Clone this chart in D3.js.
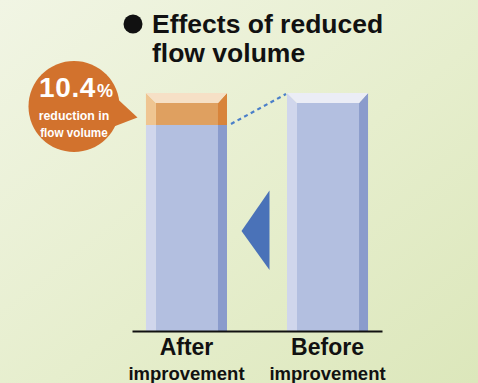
<!DOCTYPE html>
<html>
<head>
<meta charset="utf-8">
<script src="https://cdn.jsdelivr.net/npm/d3@7"></script>
<style>
  html, body { margin: 0; padding: 0; background: #e8efd2; }
  svg { display: block; }
  text { font-family: "Liberation Sans", Arial, Helvetica, sans-serif; font-weight: bold; }
</style>
</head>
<body>
<svg id="chart" width="478" height="383"></svg>
<script>
// Flow volume, indexed to the level before improvement (= 100)
const categories = ["After", "Before"];
const categorySub = ["improvement", "improvement"];
const flowValues = [89.6, 100];
const reductionPct = 10.4;
const titleLines = ["Effects of reduced", "flow volume"];
const bubbleLines = ["reduction in", "flow volume"];

const W = 478, H = 383;
const svg = d3.select("#chart");

// background wash
const defs = svg.append("defs");
const bg = defs.append("linearGradient").attr("id", "bg")
  .attr("x1", "0").attr("y1", "0").attr("x2", "1").attr("y2", "1");
bg.append("stop").attr("offset", "0%").attr("stop-color", "#f1f5e4");
bg.append("stop").attr("offset", "55%").attr("stop-color", "#e6eecd");
bg.append("stop").attr("offset", "100%").attr("stop-color", "#dce7bb");
svg.append("rect").attr("width", W).attr("height", H).attr("fill", "url(#bg)");

// scales: the value axis starts above zero so the difference reads clearly
const axisFloor = 22.6;
const x = d3.scaleBand().domain(categories).range([132, 382])
  .paddingInner(0.4255).paddingOuter(0.099);
const y = d3.scaleLinear().domain([axisFloor, 100]).range([331, 93]);
const baseY = y(axisFloor);

const blue = { top: "#ebedf6", left: "#d0d6ec", mid: "#b3bfe0", right: "#8a9bcc" };
const orange = { top: "#f6e0c6", left: "#efc591", mid: "#dfa060", right: "#d8843b" };

// each column is stacked from segments: the retained flow and the reduced part
const segments = [];
categories.forEach((c, i) => {
  const v = flowValues[i];
  const maxV = d3.max(flowValues);
  segments.push({ cat: c, v0: axisFloor, v1: v, pal: blue, cap: v >= maxV });
  if (v < maxV) segments.push({ cat: c, v0: v, v1: maxV, pal: orange, cap: true });
});

const bl = 10, br = 9, bt = 10; // bevel sizes
const g = svg.append("g");
segments.forEach(s => {
  const x0 = x(s.cat), x1 = x0 + x.bandwidth();
  const yt = y(s.v1), yb = y(s.v0);
  const inner = s.cap ? yt + bt : yt;
  g.append("rect").attr("x", x0 + bl).attr("y", inner)
    .attr("width", x1 - br - x0 - bl).attr("height", yb - inner).attr("fill", s.pal.mid);
  g.append("polygon").attr("fill", s.pal.left)
    .attr("points", [[x0, yt], [x0 + bl, inner], [x0 + bl, yb], [x0, yb]].join(" "));
  g.append("polygon").attr("fill", s.pal.right)
    .attr("points", [[x1, yt], [x1 - br, inner], [x1 - br, yb], [x1, yb]].join(" "));
  if (s.cap) {
    g.append("polygon").attr("fill", s.pal.top)
      .attr("points", [[x0, yt], [x1, yt], [x1 - br, inner], [x0 + bl, inner]].join(" "));
  }
});

// dotted connector from the reduced level to the top of the reference column
svg.append("line")
  .attr("x1", x(categories[0]) + x.bandwidth() + 4).attr("y1", y(flowValues[0]) - 1)
  .attr("x2", x(categories[1]) - 1).attr("y2", y(flowValues[1]) + 1)
  .attr("stroke", "#4a7fc9").attr("stroke-width", 2.2).attr("stroke-dasharray", "4 3.5");

// arrow pointing from "Before" to "After"
svg.append("polygon").attr("fill", "#4a72b8")
  .attr("points", [[241.5, 231], [269.5, 190.5], [269.5, 270]].join(" "));

// baseline
const axis = svg.append("g").attr("transform", `translate(0,${baseY})`)
  .call(d3.axisBottom(x).tickSize(0).tickSizeOuter(0).tickFormat(""));
axis.select(".domain").attr("stroke", "#111").attr("stroke-width", 2);

// category labels
categories.forEach((c, i) => {
  const cx = x(c) + x.bandwidth() / 2;
  svg.append("text").attr("x", cx).attr("y", 355).attr("text-anchor", "middle")
    .attr("font-size", 23).attr("fill", "#111").text(c);
  svg.append("text").attr("x", cx).attr("y", 380).attr("text-anchor", "middle")
    .attr("font-size", 18.5).attr("fill", "#111").text(categorySub[i]);
});

// title
svg.append("circle").attr("cx", 133).attr("cy", 24).attr("r", 9.5).attr("fill", "#111");
titleLines.forEach((t, i) => {
  svg.append("text").attr("x", 152).attr("y", 33 + i * 28.5)
    .attr("font-size", 26.5).attr("fill", "#111").text(t);
});

// speech bubble with the reduction figure
const bub = svg.append("g");
bub.append("circle").attr("cx", 74).attr("cy", 106.5).attr("r", 45.5).attr("fill", "#d2722d");
bub.append("polygon").attr("fill", "#d2722d")
  .attr("points", [[110, 92], [137.5, 117.5], [110, 128]].join(" "));
const big = bub.append("text").attr("x", 76).attr("y", 97).attr("text-anchor", "middle")
  .attr("fill", "#fff");
big.append("tspan").attr("font-size", 28).attr("letter-spacing", 0.6).text(reductionPct.toFixed(1));
big.append("tspan").attr("font-size", 18).attr("dx", 1).text("%");
bubbleLines.forEach((t, i) => {
  bub.append("text").attr("x", 74).attr("y", 120.5 + i * 16.5).attr("text-anchor", "middle")
    .attr("font-size", 13).attr("fill", "#fff")
    .attr("transform", `translate(74,0) scale(${i === 0 ? 0.95 : 0.9},1) translate(-74,0)`)
    .text(t);
});
</script>
</body>
</html>
